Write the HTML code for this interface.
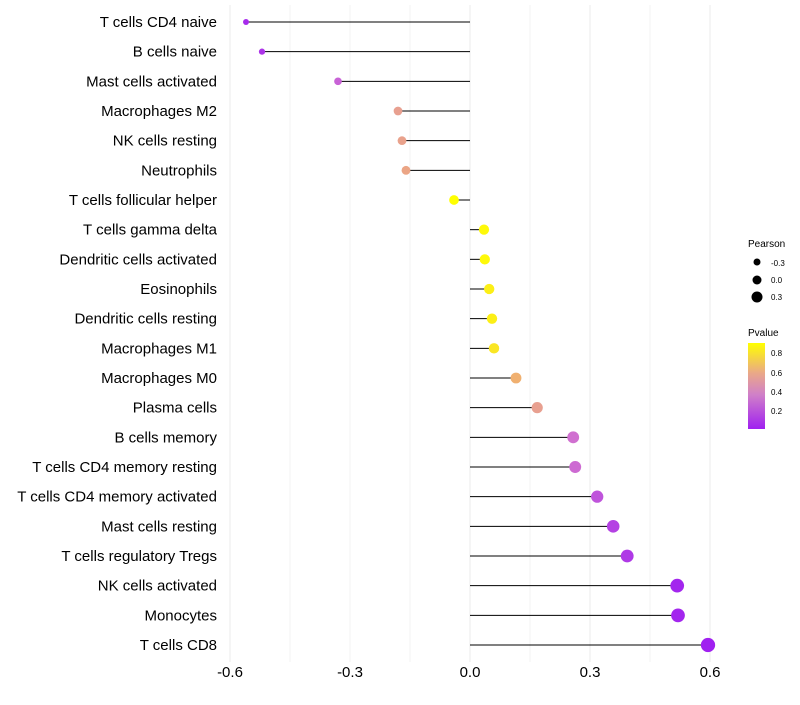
<!DOCTYPE html>
<html><head><meta charset="utf-8"><style>
body{margin:0;background:#fff;font-family:"Liberation Sans",sans-serif}
</style></head><body>
<svg id="chart" width="800" height="700" xmlns="http://www.w3.org/2000/svg" font-family="Liberation Sans, sans-serif">
<defs><linearGradient id="pg" x1="0" y1="1" x2="0" y2="0">
<stop offset="0" stop-color="#a020f0"/><stop offset="0.4" stop-color="#d080c8"/><stop offset="0.65" stop-color="#eaa888"/><stop offset="1" stop-color="#ffff00"/></linearGradient></defs>
<g id="grid"></g>
<g id="marks"></g>
<g id="labels"></g>
<g id="xticks"></g>
<g>
<text x="748" y="247" font-size="10">Pearson</text>
<circle cx="757" cy="262" r="3.5" fill="#000"/>
<text x="771" y="266" font-size="8">-0.3</text>
<circle cx="757" cy="280" r="4.5" fill="#000"/>
<text x="771" y="283" font-size="8">0.0</text>
<circle cx="757" cy="297" r="5.5" fill="#000"/>
<text x="771" y="300" font-size="8">0.3</text>
</g>
<g>
<text x="748" y="336" font-size="10">Pvalue</text>
<rect x="748" y="343" width="17" height="86" fill="url(#pg)"/>
<text x="771" y="356" font-size="8">0.8</text>
<text x="771" y="376" font-size="8">0.6</text>
<text x="771" y="395" font-size="8">0.4</text>
<text x="771" y="414" font-size="8">0.2</text>
</g>
</svg>
<script>
const categories=["T cells CD4 naive","B cells naive","Mast cells activated","Macrophages M2","NK cells resting","Neutrophils","T cells follicular helper","T cells gamma delta","Dendritic cells activated","Eosinophils","Dendritic cells resting","Macrophages M1","Macrophages M0","Plasma cells","B cells memory","T cells CD4 memory resting","T cells CD4 memory activated","Mast cells resting","T cells regulatory  Tregs","NK cells activated","Monocytes","T cells CD8"];
const pearson=[-0.56,-0.52,-0.33,-0.18,-0.17,-0.16,-0.04,0.035,0.037,0.048,0.055,0.06,0.115,0.168,0.258,0.263,0.318,0.358,0.393,0.518,0.52,0.595];
const pvalues=[0.05,0.08,0.25,0.5,0.52,0.55,0.9,0.88,0.88,0.85,0.85,0.82,0.65,0.5,0.3,0.28,0.2,0.13,0.1,0.03,0.03,0.01];
const xTicks=[-0.6,-0.3,0.0,0.3,0.6];
const xTickLabels=["-0.6","-0.3","0.0","0.3","0.6"];
const NS="http://www.w3.org/2000/svg";
const x=v=>470+v*400;
const y=i=>22+i*(623/21);
const r=v=>5+v*3.6;
function hex(h){return [1,3,5].map(k=>parseInt(h.substr(k,2),16));}
const stops=[[0.01,"#a020f0"],[0.3,"#d070d0"],[0.5,"#e8a090"],[0.65,"#f0b070"],[0.9,"#ffff00"]];
function col(p){p=Math.max(0.01,Math.min(0.9,p));for(let k=0;k<stops.length-1;k++){const[a,ca]=stops[k],[b,cb]=stops[k+1];if(p<=b){const t=(p-a)/(b-a),A=hex(ca),B=hex(cb);return "rgb("+A.map((c,j)=>Math.round(c+(B[j]-c)*t)).join(",")+")";}}return "#ffff00";}
function mk(t,a,p){const e=document.createElementNS(NS,t);for(const k in a)e.setAttribute(k,a[k]);p.appendChild(e);return e;}
const grid=document.getElementById('grid'),marks=document.getElementById('marks'),labels=document.getElementById('labels'),xt=document.getElementById('xticks');
for(let v=-0.6;v<=0.61;v+=0.15){const g=mk('line',{x1:x(v),x2:x(v),y1:5,y2:662,stroke:'#ebebeb','stroke-width':Math.abs((v*100)%30)<1?1:0.6},grid);

}
categories.forEach((c,i)=>{
const l=mk('line',{x1:x(0),x2:x(pearson[i]),y1:y(i),y2:y(i),stroke:'#000','stroke-width':1},marks);


const d=mk('circle',{cx:x(pearson[i]),cy:y(i),r:r(pearson[i]),fill:col(pvalues[i])},marks);


const t=mk('text',{x:217,y:y(i)+5,'text-anchor':'end','font-size':15,fill:'#000'},labels);t.textContent=c;


});
xTicks.forEach((v,i)=>{const t=mk('text',{x:x(v),y:677,'text-anchor':'middle','font-size':15,fill:'#000'},xt);t.textContent=xTickLabels[i];

});
</script>
</body></html>
